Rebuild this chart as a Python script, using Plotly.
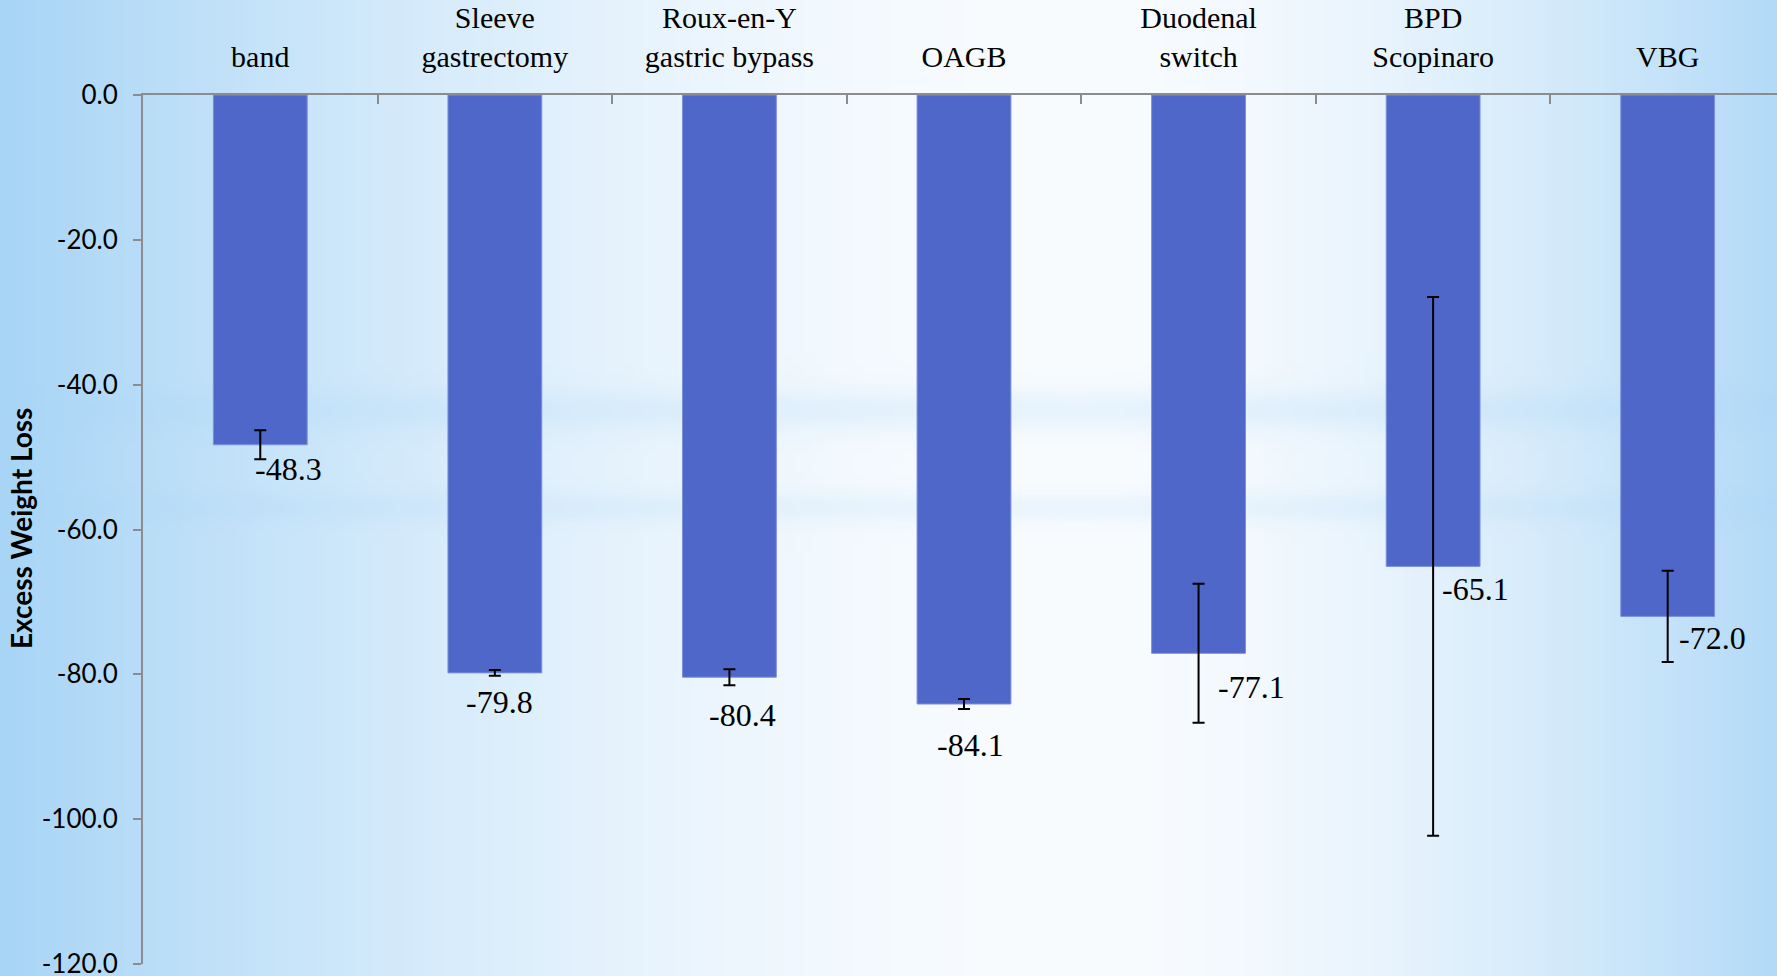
import base64
import struct
import zlib

import numpy as np
import plotly.graph_objects as go

# ---------------- data ----------------
categories = ["band", "Sleeve<br>gastrectomy", "Roux-en-Y<br>gastric bypass", "OAGB",
              "Duodenal<br>switch", "BPD<br>Scopinaro", "VBG"]
ewl = [-48.3, -79.8, -80.4, -84.1, -77.1, -65.1, -72.0]
ewl_err = [2.0, 0.4, 1.1, 0.7, 9.6, 37.2, 6.3]
y_tick_vals = [0, -20, -40, -60, -80, -100, -120]
y_tick_text = ["0.0", "-20.0", "-40.0", "-60.0", "-80.0", "-100.0", "-120.0"]

# label placement (pixels) relative to bar end
label_dx = [28, 5, 13, 7, 53, 42, 45]
label_dy = [24, 29, 38, 41, 34, 23, 22]

W, H = 1777, 976


# ---------------- background gradient image ----------------
def make_png(arr):
    h, w, _ = arr.shape
    raw = b"".join(b"\x00" + arr[i].tobytes() for i in range(h))

    def chunk(tag, data):
        return (struct.pack(">I", len(data)) + tag + data +
                struct.pack(">I", zlib.crc32(tag + data) & 0xFFFFFFFF))

    png = (b"\x89PNG\r\n\x1a\n" +
           chunk(b"IHDR", struct.pack(">IIBBBBB", w, h, 8, 2, 0, 0, 0)) +
           chunk(b"IDAT", zlib.compress(raw, 9)) +
           chunk(b"IEND", b""))
    return "data:image/png;base64," + base64.b64encode(png).decode()


gw, gh = 178, 98
X, Y = np.meshgrid((np.arange(gw) + 0.5) * W / gw, (np.arange(gh) + 0.5) * H / gh)
cx = 1080.0
dist = np.where(X < cx, (cx - X) / cx, (X - cx) / 760.0)
a_h = np.clip(dist, 0, 1) ** 1.7
a_s = (0.22 * np.exp(-((Y - 410) / 20.0) ** 2) +
       0.18 * np.exp(-((Y - 507) / 14.0) ** 2))
alpha = 1 - (1 - a_h) * (1 - a_s)
blue = np.array([168, 213, 246], dtype=float)
white = np.array([249, 252, 255], dtype=float)
img = (white[None, None, :] * (1 - alpha[..., None]) + blue[None, None, :] * alpha[..., None])
img = np.clip(img, 0, 255).astype(np.uint8)
bg_uri = make_png(img)

# ---------------- figure ----------------
fig = go.Figure()
fig.add_trace(go.Bar(
    x=categories,
    y=ewl,
    marker=dict(color="#4f67c8", line=dict(color="#7d90de", width=1)),
    error_y=dict(type="data", array=ewl_err, visible=True, color="#000000",
                 thickness=2, width=6),
    hoverinfo="x+y",
))

for c, v, dx, dy in zip(categories, ewl, label_dx, label_dy):
    fig.add_annotation(
        x=c, y=v, text=f"{v:.1f}", showarrow=False,
        xref="x", yref="y", xanchor="center", yanchor="middle",
        xshift=dx, yshift=-dy,
        font=dict(family="Liberation Serif", size=32, color="#000000"),
    )

fig.add_annotation(
    x=21 / W, y=(H - 529) / H, xref="paper", yref="paper",
    text="<b>Excess Weight Loss</b>", textangle=-90, showarrow=False,
    xanchor="center", yanchor="middle",
    font=dict(family="Lato", size=28, color="#000000"),
)

fig.add_layout_image(dict(
    source=bg_uri, xref="paper", yref="paper", x=0, y=1,
    sizex=1, sizey=1, xanchor="left", yanchor="top",
    sizing="stretch", layer="below", opacity=1,
))

fig.update_layout(
    width=W, height=H, autosize=False,
    margin=dict(l=0, r=0, t=0, b=0, pad=0, autoexpand=False),
    paper_bgcolor="#f4f9fe",
    plot_bgcolor="rgba(0,0,0,0)",
    showlegend=False,
    bargap=0.6,
    xaxis=dict(
        domain=[143 / W, 1],
        range=[-0.5, 6.466],
        side="top",
        type="category",
        tickson="boundaries",
        ticks="inside",
        ticklen=9,
        tickwidth=2,
        tickcolor="#8c8c8c",
        showline=True,
        linecolor="#8c8c8c",
        linewidth=2,
        showgrid=False,
        zeroline=False,
        automargin=False,
        ticklabelstandoff=14,
        ticklabeloverflow="allow",
        tickfont=dict(family="Liberation Serif", size=30, color="#000000"),
        anchor="y",
    ),
    yaxis=dict(
        domain=[(H - 964) / H, (H - 95) / H],
        range=[-120, 0],
        tickvals=y_tick_vals,
        ticktext=y_tick_text,
        ticks="outside",
        ticklen=8,
        tickwidth=2,
        tickcolor="#8c8c8c",
        showline=True,
        linecolor="#8c8c8c",
        linewidth=2,
        showgrid=False,
        zeroline=False,
        automargin=False,
        ticklabelstandoff=10,
        ticklabeloverflow="allow",
        tickfont=dict(family="Lato", size=26, color="#000000"),
    ),
)

post = (
    "document.documentElement.style.margin='0';"
    "document.body.style.margin='0';document.body.style.padding='0';"
    "document.body.style.overflow='hidden';"
    "var d=document.getElementById('{plot_id}');"
    "d.style.position='fixed';d.style.left='0px';d.style.top='0px';"
)

fig.write_html("out.html", post_script=post, config={"displayModeBar": False})
